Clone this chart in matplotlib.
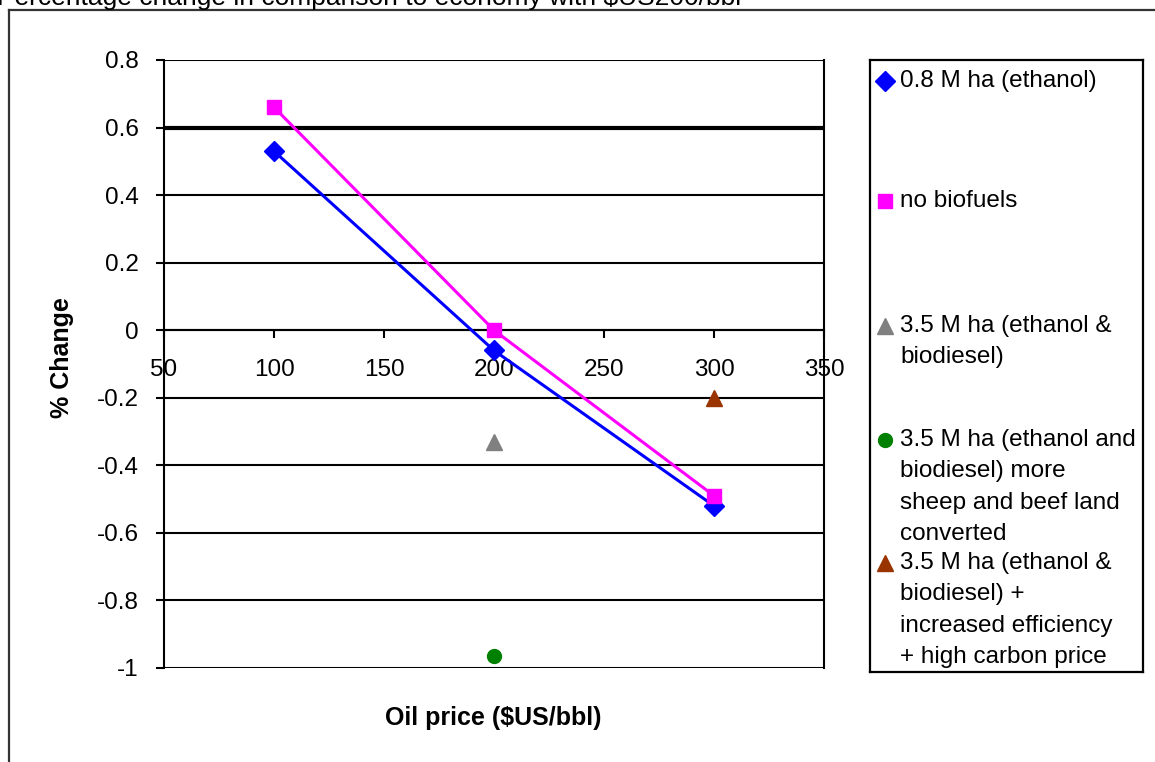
import matplotlib
matplotlib.use("Agg")
import matplotlib.pyplot as plt
from matplotlib.lines import Line2D

plt.rcParams['font.family'] = ['Liberation Sans', 'DejaVu Sans']
plt.rcParams['axes.unicode_minus'] = False

# ========================
# Data
# ========================
oil_price = [100, 200, 300]
ethanol_08 = [0.53, -0.06, -0.52]
no_biofuels = [0.66, 0.0, -0.49]

x_gray = [200]
y_gray = [-0.33]       # 3.5 M ha (ethanol & biodiesel)
x_green = [200]
y_green = [-0.965]     # more sheep and beef land converted
x_brown = [300]
y_brown = [-0.20]      # + efficiency + high carbon price

x_ticks = [50, 100, 150, 200, 250, 300, 350]
y_ticks = [-1, -0.8, -0.6, -0.4, -0.2, 0, 0.2, 0.4, 0.6, 0.8]
y_tick_labels = ['-1', '-0.8', '-0.6', '-0.4', '-0.2', '0', '0.2', '0.4', '0.6', '0.8']

legend_labels = [
    "0.8 M ha (ethanol)",
    "no biofuels",
    "3.5 M ha (ethanol &\nbiodiesel)",
    "3.5 M ha (ethanol and\nbiodiesel) more\nsheep and beef land\nconverted",
    "3.5 M ha (ethanol &\nbiodiesel) +\nincreased efficiency\n+ high carbon price",
]

W, H = 1155, 762
fig = plt.figure(figsize=(W / 100, H / 100), dpi=100)

def fx(px):
    return px / W

def fy(py):
    return 1 - py / H

# outer chart frame (partly cut off) and title
fig.add_artist(Line2D([fx(9), fx(9)], [fy(10), 0], color='#333333', lw=1.6))
fig.add_artist(Line2D([fx(9), 1], [fy(10), fy(10)], color='#333333', lw=1.6))
fig.text(fx(-3), fy(5), "Percentage change in comparison to economy with $US200/bbl",
         fontsize=19, va='baseline', ha='left')

# ========================
# Main plot
# ========================
ax = fig.add_axes([fx(164), fy(668), fx(824) - fx(164), fy(60) - fy(668)])
ax.set_xlim(50, 350)
ax.set_ylim(-1, 0.8)

for yv in y_ticks:
    ax.axhline(yv, color='black', lw=3.0 if yv == 0.6 else 1.5, zorder=1)

ax.plot(oil_price, ethanol_08, color='#0000FF', lw=2.2, marker='D', ms=10,
        zorder=3)
ax.plot(oil_price, no_biofuels, color='#FF00FF', lw=2.2, marker='s', ms=10,
        zorder=3)
ax.plot(x_gray, y_gray, ls='none', marker='^', ms=12, color='#808080', zorder=3)
ax.plot(x_green, y_green, ls='none', marker='o', ms=10, color='#008000', zorder=3)
ax.plot(x_brown, y_brown, ls='none', marker='^', ms=12, color='#993300', zorder=3)

ax.spines['bottom'].set_position(('data', 0))
ax.spines['top'].set_visible(False)
for s in ['left', 'right', 'bottom']:
    ax.spines[s].set_linewidth(1.5)

ax.set_xticks(x_ticks)
ax.set_xticklabels([str(v) for v in x_ticks])
ax.set_yticks(y_ticks)
ax.set_yticklabels(y_tick_labels)
ax.tick_params(axis='x', direction='out', length=6, width=1.5, pad=15, labelsize=17.5)
ax.tick_params(axis='y', direction='out', length=6, width=1.5, pad=12, labelsize=17.5)

fig.text(fx(62), fy(358), "% Change", rotation=90, fontsize=18, fontweight='bold',
         ha='center', va='center')
fig.text(fx(493), fy(718), "Oil price ($US/bbl)", fontsize=18, fontweight='bold',
         ha='center', va='center')

# ========================
# Legend box
# ========================
lx0, ly0, lx1, ly1 = 870, 60, 1143, 672
lax = fig.add_axes([fx(lx0), fy(ly1), fx(lx1) - fx(lx0), fy(ly0) - fy(ly1)])
lax.set_xlim(lx0, lx1)
lax.set_ylim(ly1, ly0)
lax.set_xticks([])
lax.set_yticks([])
for s in lax.spines.values():
    s.set_linewidth(1.6)

leg_y = [81, 201, 326, 440, 563]
leg_style = [
    dict(marker='D', ms=10, color='#0000FF'),
    dict(marker='s', ms=10, color='#FF00FF'),
    dict(marker='^', ms=12, color='#808080'),
    dict(marker='o', ms=10, color='#008000'),
    dict(marker='^', ms=12, color='#993300'),
]
for label, yy, st in zip(legend_labels, leg_y, leg_style):
    lax.plot([885], [yy], ls='none', **st)
    lax.text(900, yy - 11, label, fontsize=17.5, va='top', ha='left',
             linespacing=1.55)

fig.savefig("out.png", dpi=100)
